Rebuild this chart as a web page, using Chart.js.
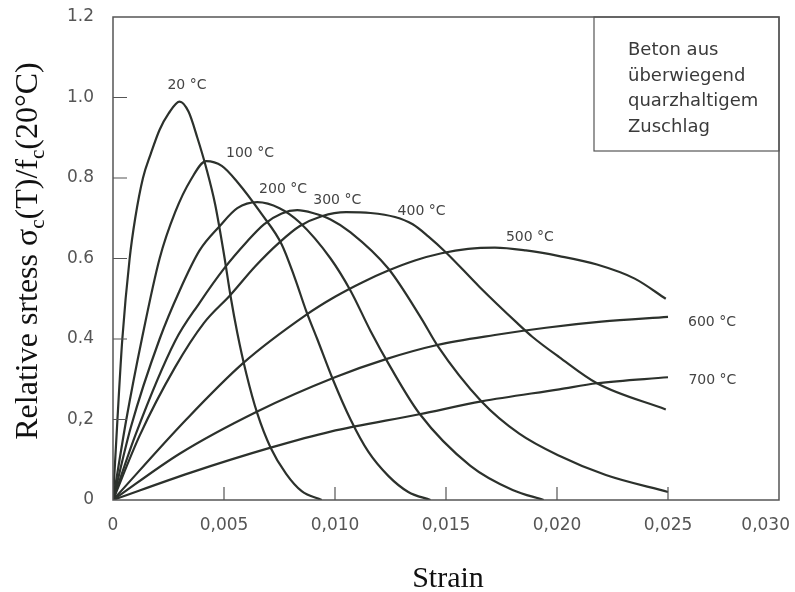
<!DOCTYPE html>
<html>
<head>
<meta charset="utf-8">
<script src="https://cdn.jsdelivr.net/npm/chart.js@4.4.1/dist/chart.umd.min.js"></script>
<style>
  html, body { margin: 0; padding: 0; background: #fff; }
  #wrap { width: 795px; height: 592px; }
</style>
</head>
<body>
<div id="wrap"><canvas id="myChart" width="795" height="592"></canvas></div>
<script>
// stress-strain curves of concrete (quartz aggregate), strain / relative stress pairs
let temps = ["20 °C", "100 °C", "200 °C", "300 °C", "400 °C", "500 °C", "600 °C", "700 °C"];

let curve20 = [[0,0],[0.0002,0.2],[0.00042,0.4],[0.00075,0.6],[0.001,0.7],[0.00135,0.8],[0.0017,0.86],
  [0.0021,0.92],[0.0025,0.96],[0.003,0.99],[0.0034,0.965],[0.0038,0.9],[0.0042,0.825],[0.0046,0.735],[0.005,0.61],
  [0.0053,0.505],[0.0056,0.415],[0.006,0.315],[0.0065,0.215],[0.0071,0.13],[0.0078,0.065],[0.0085,0.022],[0.0094,0]];
let curve100 = [[0,0],[0.0006,0.2],[0.0013,0.4],[0.0021,0.6],[0.0028,0.715],[0.0035,0.795],[0.0042,0.842],
  [0.0049,0.83],[0.0056,0.79],[0.0067,0.71],[0.0076,0.635],[0.0082,0.55],[0.0087,0.47],[0.0092,0.4],
  [0.0099,0.3],[0.0107,0.2],[0.0115,0.12],[0.0124,0.06],[0.0133,0.02],[0.0143,0]];
let curve200 = [[0,0],[0.0008,0.18],[0.0021,0.4],[0.003,0.52],[0.0039,0.62],[0.0048,0.68],[0.0056,0.725],
  [0.0065,0.74],[0.0075,0.725],[0.0084,0.69],[0.0098,0.6],[0.0107,0.52],[0.0116,0.42],[0.0125,0.33],
  [0.0138,0.215],[0.0161,0.085],[0.018,0.025],[0.0194,0]];
let curve300 = [[0,0],[0.001,0.16],[0.0028,0.395],[0.0039,0.49],[0.005,0.575],[0.006,0.64],[0.0068,0.685],
  [0.0076,0.712],[0.0083,0.72],[0.009,0.713],[0.0098,0.697],[0.0107,0.665],[0.0124,0.575],[0.0139,0.45],
  [0.0146,0.385],[0.0166,0.245],[0.0183,0.165],[0.0201,0.11],[0.0222,0.062],[0.025,0.02]];
let curve400 = [[0,0],[0.0012,0.16],[0.0028,0.33],[0.0041,0.44],[0.0053,0.51],[0.0064,0.58],[0.0075,0.64],
  [0.0084,0.68],[0.0094,0.705],[0.0105,0.715],[0.0116,0.713],[0.0127,0.703],[0.0135,0.685],[0.0142,0.655],
  [0.015,0.615],[0.0165,0.53],[0.0182,0.44],[0.0189,0.405],[0.0201,0.355],[0.0218,0.29],[0.0249,0.225]];
let curve500 = [[0,0],[0.0033,0.2],[0.00586,0.34],[0.0087,0.46],[0.01,0.505],[0.0112,0.54],[0.0124,0.57],
  [0.0136,0.595],[0.0148,0.613],[0.016,0.624],[0.0172,0.627],[0.0186,0.62],[0.0201,0.606],[0.0218,0.585],
  [0.0235,0.55],[0.0249,0.5]];
let curve600 = [[0,0],[0.003,0.115],[0.0065,0.22],[0.01,0.305],[0.0123,0.35],[0.0146,0.385],[0.0172,0.41],
  [0.0195,0.428],[0.022,0.443],[0.025,0.455]];
let curve700 = [[0,0],[0.0035,0.068],[0.0071,0.13],[0.0098,0.17],[0.0138,0.213],[0.0166,0.245],
  [0.0201,0.275],[0.0218,0.29],[0.025,0.305]];

let curves = [curve20, curve100, curve200, curve300, curve400, curve500, curve600, curve700];

// where each temperature label sits, in strain / stress units
let labelX = [0.00333, 0.00617, 0.00766, 0.0101, 0.0139, 0.01878, 0.02698, 0.027];
let labelY = [1.03, 0.862, 0.773, 0.745, 0.716, 0.653, 0.442, 0.298];

let xTickValues = [0, 0.005, 0.01, 0.015, 0.02, 0.025, 0.03];
let xTickLabels = ["0", "0,005", "0,010", "0,015", "0,020", "0,025", "0,030"];
let yTickLabels = ["0", "0,2", "0.4", "0.6", "0.8", "1.0", "1.2"];

let noteLines = ["Beton aus", "überwiegend", "quarzhaltigem", "Zuschlag"];

let ink = "#2c312c";
let grey = "#555";

let datasets = curves.map(function(c, i) {
  return {
    label: temps[i],
    data: c.map(p => ({x: p[0], y: p[1]})),
    borderColor: ink,
    borderWidth: 2.2,
    pointRadius: 0,
    fill: false,
    cubicInterpolationMode: "monotone"
  };
});

// frame, inward ticks, x tick labels, note box, curve labels and axis titles
let decor = {
  id: "decor",
  afterDraw(chart) {
    let ctx = chart.ctx;
    let a = chart.chartArea;
    let xs = chart.scales.x, ys = chart.scales.y;
    ctx.save();

    ctx.strokeStyle = grey;
    ctx.lineWidth = 1.5;
    ctx.strokeRect(a.left, a.top, a.right - a.left, a.bottom - a.top);

    ctx.lineWidth = 1.2;
    ctx.beginPath();
    for (let v = 1; v <= 5; v++) {
      let px = xs.getPixelForValue(v * 0.005);
      ctx.moveTo(px, a.bottom);
      ctx.lineTo(px, a.bottom - 13);
    }
    for (let v = 1; v <= 5; v++) {
      let py = ys.getPixelForValue(v * 0.2);
      ctx.moveTo(a.left, py);
      ctx.lineTo(a.left + 14, py);
    }
    ctx.stroke();

    // x tick labels, the last one kept inside the canvas
    ctx.fillStyle = grey;
    ctx.font = "17px 'DejaVu Sans'";
    ctx.textAlign = "center";
    ctx.textBaseline = "middle";
    xTickValues.forEach(function(v, i) {
      let w = ctx.measureText(xTickLabels[i]).width;
      let px = Math.min(xs.getPixelForValue(v), chart.width - 5 - w / 2);
      ctx.fillText(xTickLabels[i], px, a.bottom + 26);
    });

    // note box in the upper right corner
    ctx.lineWidth = 1.2;
    ctx.strokeRect(594, a.top, a.right - 594, 134);
    ctx.fillStyle = "#3a3a3a";
    ctx.font = "18px 'DejaVu Sans'";
    ctx.textAlign = "left";
    ctx.textBaseline = "alphabetic";
    noteLines.forEach(function(t, i) {
      ctx.fillText(t, 628, a.top + 38 + i * 25.7);
    });

    ctx.fillStyle = "#444";
    ctx.font = "14px 'DejaVu Sans'";
    ctx.textAlign = "center";
    ctx.textBaseline = "middle";
    temps.forEach(function(t, i) {
      ctx.fillText(t, xs.getPixelForValue(labelX[i]), ys.getPixelForValue(labelY[i]));
    });

    // x title
    ctx.fillStyle = "#111";
    ctx.font = "30px 'Liberation Serif'";
    ctx.textBaseline = "alphabetic";
    ctx.fillText("Strain", 448, 587);

    // y title with subscripts, rotated
    let big = "32px 'Liberation Serif'";
    let small = "21px 'Liberation Serif'";
    let runs = [
      ["Relative srtess σ", big, 0], ["c", small, 7], ["(T)/f", big, 0], ["c", small, 7], ["(20°C)", big, 0]
    ];
    let total = 0;
    runs.forEach(function(r) { ctx.font = r[1]; total += ctx.measureText(r[0]).width; });
    ctx.translate(37, 251);
    ctx.rotate(-Math.PI / 2);
    ctx.textAlign = "left";
    let cx = -total / 2;
    runs.forEach(function(r) {
      ctx.font = r[1];
      ctx.fillText(r[0], cx, r[2]);
      cx += ctx.measureText(r[0]).width;
    });
    ctx.restore();
  }
};

let myChart = new Chart(document.getElementById("myChart"), {
  type: "line",
  data: { datasets: datasets },
  options: {
    responsive: false,
    animation: false,
    layout: { padding: { left: 23, top: 17, right: 16, bottom: 0 } },
    plugins: { legend: { display: false }, tooltip: { enabled: false } },
    scales: {
      x: {
        type: "linear",
        min: 0,
        max: 0.03,
        grid: { display: false },
        border: { display: false },
        ticks: { display: false, stepSize: 0.005 },
        afterFit(scale) { scale.height = 92; scale.paddingLeft = 0; scale.paddingRight = 0; }
      },
      y: {
        min: 0,
        max: 1.2,
        grid: { display: false },
        border: { display: false },
        ticks: {
          stepSize: 0.2,
          padding: 11,
          color: grey,
          font: { family: "DejaVu Sans", size: 17 },
          callback: (v, i) => yTickLabels[i]
        },
        afterFit(scale) { scale.width = 90; scale.paddingTop = 0; scale.paddingBottom = 0; }
      }
    }
  },
  plugins: [decor]
});
</script>
</body>
</html>
